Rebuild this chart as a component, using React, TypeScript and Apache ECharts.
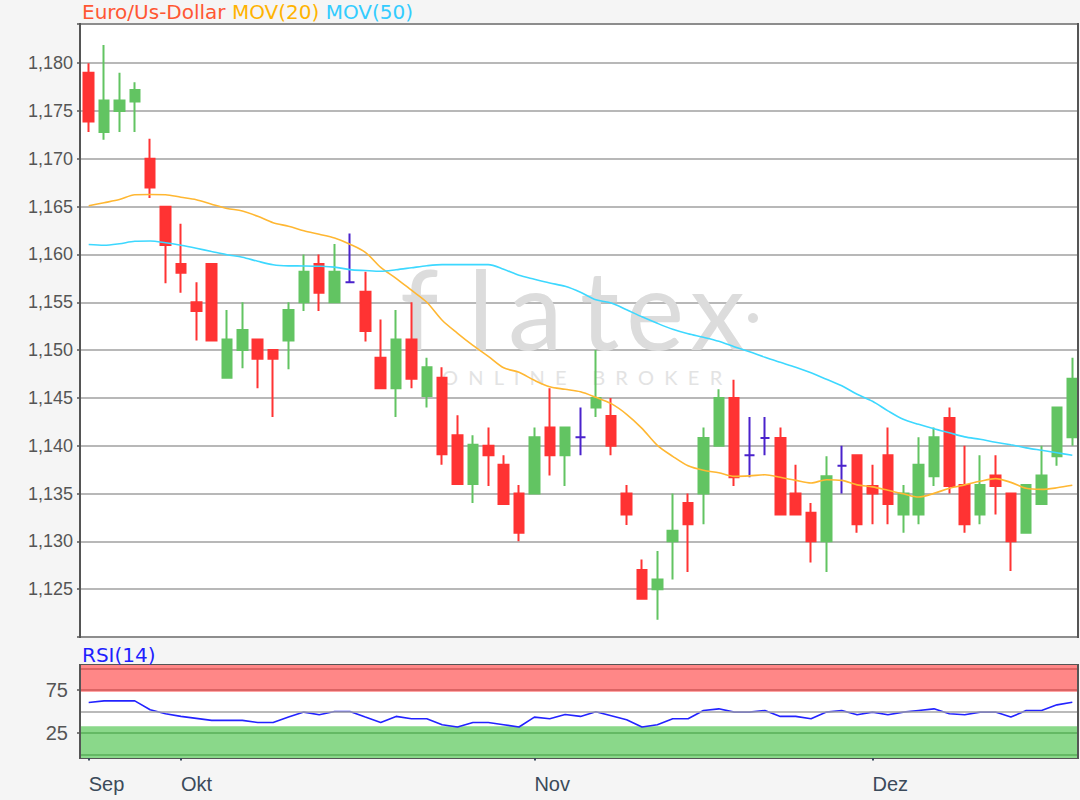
import React, { useEffect, useRef } from 'react';
import * as echarts from 'echarts';

const monthIndex = [0, 6, 29, 51];
const monthNames = ['Sep', 'Okt', 'Nov', 'Dez'];

// [open, close, low, high]
const ohlc: number[][] = [
  [1.1790, 1.1739, 1.1728, 1.1800],
  [1.1728, 1.1761, 1.1720, 1.1819],
  [1.1750, 1.1761, 1.1728, 1.1790],
  [1.1760, 1.1772, 1.1728, 1.1780],
  [1.1700, 1.1670, 1.1659, 1.1721],
  [1.1650, 1.1610, 1.1570, 1.1650],
  [1.1590, 1.1581, 1.1560, 1.1632],
  [1.1550, 1.1541, 1.1510, 1.1571],
  [1.1590, 1.1510, 1.1510, 1.1590],
  [1.1471, 1.1511, 1.1471, 1.1542],
  [1.1500, 1.1521, 1.1481, 1.1550],
  [1.1511, 1.1491, 1.1460, 1.1511],
  [1.1500, 1.1491, 1.1430, 1.1500],
  [1.1510, 1.1542, 1.1480, 1.1550],
  [1.1550, 1.1582, 1.1541, 1.1600],
  [1.1590, 1.1560, 1.1541, 1.1600],
  [1.1550, 1.1582, 1.1550, 1.1611],
  [1.1571, 1.1571, 1.1571, 1.1622],
  [1.1561, 1.1520, 1.1509, 1.1582],
  [1.1492, 1.1460, 1.1460, 1.1532],
  [1.1460, 1.1511, 1.1430, 1.1542],
  [1.1511, 1.1470, 1.1460, 1.1550],
  [1.1452, 1.1482, 1.1440, 1.1492],
  [1.1471, 1.1391, 1.1380, 1.1482],
  [1.1411, 1.1360, 1.1360, 1.1432],
  [1.1360, 1.1401, 1.1340, 1.1411],
  [1.1400, 1.1390, 1.1358, 1.1419],
  [1.1380, 1.1339, 1.1339, 1.1390],
  [1.1350, 1.1309, 1.1300, 1.1359],
  [1.1350, 1.1409, 1.1350, 1.1419],
  [1.1419, 1.1390, 1.1369, 1.1460],
  [1.1390, 1.1419, 1.1358, 1.1419],
  [1.1409, 1.1409, 1.1390, 1.1440],
  [1.1440, 1.1450, 1.1430, 1.1500],
  [1.1431, 1.1400, 1.1390, 1.1450],
  [1.1350, 1.1328, 1.1317, 1.1359],
  [1.1270, 1.1240, 1.1240, 1.1281],
  [1.1250, 1.1260, 1.1218, 1.1290],
  [1.1300, 1.1311, 1.1260, 1.1350],
  [1.1340, 1.1318, 1.1268, 1.1350],
  [1.1350, 1.1408, 1.1318, 1.1419],
  [1.1400, 1.1450, 1.1400, 1.1459],
  [1.1450, 1.1367, 1.1358, 1.1469],
  [1.1390, 1.1390, 1.1367, 1.1430],
  [1.1408, 1.1408, 1.1390, 1.1430],
  [1.1408, 1.1328, 1.1328, 1.1419],
  [1.1350, 1.1328, 1.1328, 1.1380],
  [1.1330, 1.1300, 1.1278, 1.1340],
  [1.1300, 1.1368, 1.1268, 1.1389],
  [1.1379, 1.1379, 1.1350, 1.1400],
  [1.1390, 1.1318, 1.1309, 1.1390],
  [1.1358, 1.1350, 1.1318, 1.1380],
  [1.1390, 1.1339, 1.1318, 1.1419],
  [1.1328, 1.1350, 1.1309, 1.1359],
  [1.1328, 1.1380, 1.1318, 1.1409],
  [1.1368, 1.1409, 1.1358, 1.1419],
  [1.1429, 1.1358, 1.1350, 1.1440],
  [1.1359, 1.1318, 1.1309, 1.1400],
  [1.1328, 1.1359, 1.1318, 1.1390],
  [1.1369, 1.1358, 1.1328, 1.1390],
  [1.1350, 1.1300, 1.1269, 1.1350],
  [1.1309, 1.1359, 1.1309, 1.1359],
  [1.1339, 1.1369, 1.1339, 1.1400],
  [1.1389, 1.1440, 1.1379, 1.1440],
  [1.1409, 1.1470, 1.1400, 1.1492],
];

const mov20 = [
  1.16509, 1.16541, 1.16574, 1.16625, 1.16627, 1.16625, 1.16598, 1.16572, 1.16525, 1.16481,
  1.16455, 1.16400, 1.16332, 1.16295, 1.16248, 1.16211, 1.16172, 1.16107, 1.16023, 1.15866,
  1.15751, 1.15626, 1.15500, 1.15312, 1.15176, 1.15050, 1.14935, 1.14815, 1.14768, 1.14684,
  1.14616, 1.14590, 1.14564, 1.14506, 1.14440, 1.14329, 1.14182, 1.14004, 1.13889, 1.13790,
  1.13743, 1.13717, 1.13680, 1.13685, 1.13696, 1.13670, 1.13638, 1.13610, 1.13645, 1.13638,
  1.13591, 1.13570, 1.13534, 1.13497, 1.13464, 1.13502, 1.13555, 1.13591, 1.13628, 1.13656,
  1.13617, 1.13555, 1.13544, 1.13560, 1.13586,
];

const mov50 = [
  1.16104, 1.16096, 1.16112, 1.16138, 1.16141, 1.16122, 1.16096, 1.16065, 1.16031, 1.15997,
  1.15971, 1.15929, 1.15892, 1.15881, 1.15880, 1.15877, 1.15868, 1.15842, 1.15832, 1.15824,
  1.15840, 1.15861, 1.15882, 1.15894, 1.15894, 1.15894, 1.15894, 1.15845, 1.15782, 1.15741,
  1.15702, 1.15667, 1.15605, 1.15526, 1.15493, 1.15422, 1.15348, 1.15280, 1.15218, 1.15171,
  1.15134, 1.15092, 1.15035, 1.14982, 1.14925, 1.14872, 1.14820, 1.14763, 1.14695, 1.14627,
  1.14538, 1.14465, 1.14365, 1.14276, 1.14224, 1.14177, 1.14135, 1.14093, 1.14067, 1.14036,
  1.14010, 1.13978, 1.13952, 1.13926, 1.13900,
];

const rsi14 = [
  60.4, 62.3, 62.3, 62.3, 52.0, 47.3, 44.3, 42.0, 39.7, 39.7,
  39.7, 37.3, 37.3, 43.5, 49.3, 46.2, 50.0, 50.0, 43.5, 37.3,
  44.3, 41.6, 41.6, 34.7, 32.0, 37.3, 37.3, 34.7, 32.0, 43.5,
  41.6, 46.6, 44.3, 49.6, 45.0, 40.4, 32.0, 34.7, 41.6, 41.6,
  51.2, 53.1, 49.3, 49.3, 51.2, 44.3, 44.3, 41.6, 49.3, 51.2,
  46.2, 49.3, 46.2, 49.3, 51.2, 53.1, 47.3, 46.2, 49.3, 49.3,
  43.5, 51.2, 51.2, 57.7, 60.8,
];

const rsiLabelValues = [25, 75];
const rsiOverbought = [73, 104];
const rsiOversold = [-4, 33];

const categories = ohlc.map((_, i) => 'd' + i);

const GREEN = '#62c462';
const RED = '#ff3333';
const DOJI = '#4a22cc';
const FONT = '"Liberation Sans", Arial, sans-serif';
const TITLE_FONT = '"DejaVu Sans", Verdana, sans-serif';
const PAGE_BG = '#f5f5f5';

export default function App() {
  const ref = useRef<HTMLDivElement>(null);

  useEffect(() => {
    if (!ref.current) return;
    const chart = echarts.init(ref.current, undefined, { renderer: 'svg' });

    const candleData = ohlc.map((d) =>
      d[0] === d[1]
        ? {
            value: d,
            itemStyle: { color: DOJI, color0: DOJI, borderColor: DOJI, borderColor0: DOJI, borderColorDoji: DOJI },
          }
        : d
    );

    const monthLabel = (idx: number) => {
      const k = monthIndex.indexOf(idx);
      return k >= 0 ? monthNames[k] : '';
    };

    const watermarkLetters = [
      { t: 'f', x: 400 },
      { t: 'l', x: 468 },
      { t: 'a', x: 508 },
      { t: 't', x: 580 },
      { t: 'e', x: 626 },
      { t: 'x', x: 690 },
    ];

    const option: any = {
      animation: false,
      backgroundColor: PAGE_BG,
      textStyle: { fontFamily: FONT },
      title: [
        {
          left: 82,
          top: 2,
          padding: 0,
          text: '{a|Euro/Us-Dollar} {b|MOV(20)} {c|MOV(50)}',
          textStyle: {
            fontFamily: TITLE_FONT,
            fontWeight: 'normal',
            fontSize: 20,
            rich: {
              a: { color: '#ff5733', fontSize: 20, fontWeight: 'normal', fontFamily: TITLE_FONT },
              b: { color: '#ffb300', fontSize: 20, fontWeight: 'normal', fontFamily: TITLE_FONT },
              c: { color: '#33ccff', fontSize: 20, fontWeight: 'normal', fontFamily: TITLE_FONT },
            },
          },
        },
        {
          left: 82,
          top: 645,
          padding: 0,
          text: 'RSI(14)',
          textStyle: { color: '#1f1fff', fontSize: 20, fontWeight: 'normal', fontFamily: TITLE_FONT },
        },
      ],
      graphic: [
        {
          type: 'rect',
          z: -1,
          shape: { x: 80, y: 24, width: 998, height: 613 },
          style: { fill: '#ffffff', stroke: '#555555', lineWidth: 2 },
          silent: true,
        },
        {
          type: 'rect',
          z: -1,
          shape: { x: 80, y: 665, width: 998, height: 93 },
          style: { fill: '#ffffff', stroke: '#555555', lineWidth: 2 },
          silent: true,
        },
        ...watermarkLetters.map((l) => ({
          type: 'text',
          z: 1,
          silent: true,
          x: l.x,
          y: 252,
          style: {
            text: l.t,
            fill: '#dcdcdc',
            fontSize: 110,
            fontFamily: 'Lato, sans-serif',
            fontWeight: 'normal',
          },
        })),
        {
          type: 'circle',
          z: 1,
          silent: true,
          shape: { cx: 753, cy: 318, r: 5 },
          style: { fill: '#dcdcdc' },
        },
        {
          type: 'text',
          z: 1,
          silent: true,
          x: 442,
          y: 367,
          style: {
            text: 'O  N  L  I  N  E     B  R  O  K  E  R',
            fill: '#e3e3e3',
            fontSize: 20,
            fontFamily: 'Lato, sans-serif',
          },
        },
        {
          type: 'rect',
          z: 100,
          silent: true,
          shape: { x: 1079, y: 20, width: 2, height: 745 },
          style: { fill: PAGE_BG },
        },
        {
          type: 'line',
          z: 100,
          silent: true,
          shape: { x1: 1078, y1: 23, x2: 1078, y2: 638 },
          style: { stroke: '#555555', lineWidth: 2 },
        },
        {
          type: 'line',
          z: 100,
          silent: true,
          shape: { x1: 1078, y1: 664, x2: 1078, y2: 759 },
          style: { stroke: '#555555', lineWidth: 2 },
        },
      ],
      grid: [
        { left: 81, top: 24, width: 1000, height: 613, show: false },
        { left: 81, top: 665, width: 1000, height: 93, show: false },
      ],
      xAxis: [
        {
          type: 'category',
          gridIndex: 0,
          data: categories,
          boundaryGap: true,
          axisLine: { show: false },
          axisTick: { show: false },
          axisLabel: { show: false },
          splitLine: { show: false },
        },
        {
          type: 'category',
          gridIndex: 1,
          data: categories,
          boundaryGap: true,
          axisLine: { show: false },
          axisTick: {
            show: true,
            alignWithLabel: true,
            interval: (idx: number) => monthIndex.includes(idx),
            length: 6,
            lineStyle: { color: '#3b4a5a', width: 2 },
          },
          axisLabel: {
            show: true,
            interval: (idx: number) => monthIndex.includes(idx),
            formatter: (_v: string, idx: number) => monthLabel(idx),
            align: 'left',
            color: '#3b4a5a',
            fontSize: 20,
            fontFamily: FONT,
            margin: 16,
          },
          splitLine: { show: false },
        },
      ],
      yAxis: [
        {
          type: 'value',
          gridIndex: 0,
          min: 1.12,
          max: 1.1841,
          interval: 0.005,
          axisLine: { show: false },
          axisTick: { show: true, length: 4, lineStyle: { color: '#555555', width: 1.5 } },
          axisLabel: {
            color: '#555555',
            fontSize: 18,
            fontFamily: FONT,
            margin: 8,
            formatter: (v: number) => (v < 1.1225 || v > 1.1825 ? '' : v.toFixed(3).replace('.', ',')),
          },
          splitLine: { show: true, lineStyle: { color: '#a0a0a0', width: 1.6 } },
        },
        {
          type: 'value',
          gridIndex: 1,
          min: -4,
          max: 104,
          axisLine: { show: false },
          axisTick: { show: true, length: 4, customValues: rsiLabelValues, lineStyle: { color: '#555555', width: 1.5 } },
          axisLabel: {
            color: '#555555',
            fontSize: 20,
            fontFamily: FONT,
            margin: 13,
            customValues: rsiLabelValues,
          },
          splitLine: { show: false },
        },
      ],
      series: [
        {
          type: 'candlestick',
          xAxisIndex: 0,
          yAxisIndex: 0,
          data: candleData,
          barWidth: 10,
          z: 3,
          itemStyle: {
            color: GREEN,
            color0: RED,
            borderColor: GREEN,
            borderColor0: RED,
            borderColorDoji: DOJI,
            borderWidth: 2,
          },
        },
        {
          type: 'line',
          name: 'MOV(20)',
          xAxisIndex: 0,
          yAxisIndex: 0,
          data: mov20,
          showSymbol: false,
          smooth: 0.3,
          z: 4,
          lineStyle: { color: '#ffb732', width: 1.6 },
        },
        {
          type: 'line',
          name: 'MOV(50)',
          xAxisIndex: 0,
          yAxisIndex: 0,
          data: mov50,
          showSymbol: false,
          smooth: 0.3,
          z: 4,
          lineStyle: { color: '#3dd8ff', width: 1.6 },
        },
        {
          type: 'line',
          name: 'RSI(14)',
          xAxisIndex: 1,
          yAxisIndex: 1,
          data: rsi14,
          showSymbol: false,
          z: 4,
          lineStyle: { color: '#2323ff', width: 1.6 },
          markArea: {
            silent: true,
            data: [
              [
                { yAxis: rsiOverbought[0], itemStyle: { color: '#ff8787' } },
                { yAxis: rsiOverbought[1] },
              ],
              [
                { yAxis: rsiOversold[0], itemStyle: { color: '#8ad88a' } },
                { yAxis: rsiOversold[1] },
              ],
            ],
          },
          markLine: {
            silent: true,
            symbol: 'none',
            label: { show: false },
            data: [
              { yAxis: 100, lineStyle: { color: '#dc6464', width: 2, type: 'solid' } },
              { yAxis: 75, lineStyle: { color: '#dc6464', width: 2, type: 'solid' } },
              { yAxis: 50, lineStyle: { color: '#a3a3a3', width: 1.5, type: 'solid' } },
              { yAxis: 25, lineStyle: { color: '#64b964', width: 2, type: 'solid' } },
              { yAxis: 0, lineStyle: { color: '#64b964', width: 2, type: 'solid' } },
            ],
          },
        },
      ],
    };

    chart.setOption(option);
    return () => chart.dispose();
  }, []);

  return (
    <div
      ref={ref}
      style={{ position: 'fixed', left: 0, top: 0, width: 1080, height: 800, background: PAGE_BG }}
    />
  );
}
